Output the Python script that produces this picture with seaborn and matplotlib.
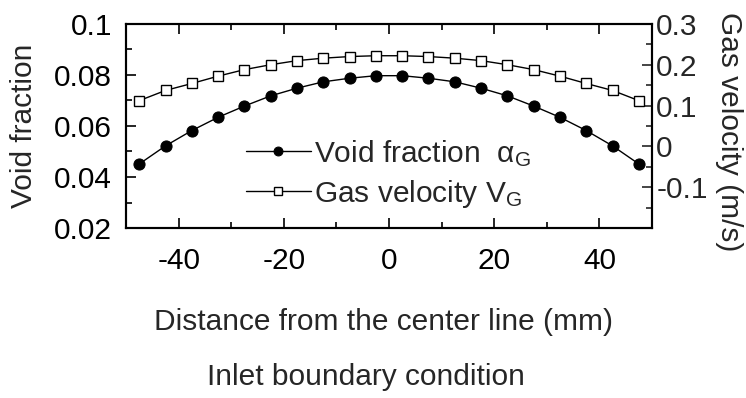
import matplotlib
matplotlib.use("Agg")
import matplotlib.pyplot as plt
import seaborn as sns
import numpy as np
from matplotlib.ticker import MultipleLocator

# Data
distance_mm = [-47.5, -42.5, -37.5, -32.5, -27.5, -22.5, -17.5, -12.5, -7.5, -2.5,
               2.5, 7.5, 12.5, 17.5, 22.5, 27.5, 32.5, 37.5, 42.5, 47.5]
void_fraction = [0.0451, 0.0522, 0.0582, 0.0634, 0.0678, 0.0718, 0.0748, 0.0773, 0.0787, 0.0797,
                 0.0797, 0.0787, 0.0773, 0.0748, 0.0718, 0.0678, 0.0634, 0.0582, 0.0522, 0.0451]
gas_velocity = [0.112, 0.137, 0.154, 0.172, 0.188, 0.200, 0.210, 0.216, 0.220, 0.222,
                0.222, 0.220, 0.216, 0.210, 0.200, 0.188, 0.172, 0.154, 0.137, 0.112]
x_ticks = [-40, -20, 0, 20, 40]
left_ticks = [0.02, 0.04, 0.06, 0.08, 0.1]
left_tick_labels = ["0.02", "0.04", "0.06", "0.08", "0.1"]
right_ticks = [-0.1, 0, 0.1, 0.2, 0.3]
right_tick_labels = ["-0.1", "0", "0.1", "0.2", "0.3"]

sns.set_style("ticks")
plt.rcParams['font.family'] = ['Liberation Sans', 'DejaVu Sans']
plt.rcParams['mathtext.fontset'] = 'custom'
plt.rcParams['mathtext.rm'] = 'Liberation Sans'
plt.rcParams['mathtext.it'] = 'Liberation Sans:italic'

FS = 21.5
fig = plt.figure(figsize=(7.46, 3.98), dpi=100)
ax = fig.add_axes([0.169, 0.427, 0.705, 0.513])
ax2 = ax.twinx()

sns.lineplot(x=distance_mm, y=void_fraction, ax=ax, color="black", marker="o",
             markersize=8, markerfacecolor="black", markeredgecolor="black",
             linewidth=1.0, label="Void fraction  α$_{\\mathrm{G}}$", legend=False)
sns.lineplot(x=distance_mm, y=gas_velocity, ax=ax2, color="black", marker="s",
             markersize=7.5, markerfacecolor="white", markeredgecolor="black",
             markeredgewidth=1.0, linewidth=1.0, label="Gas velocity V$_{\\mathrm{G}}$",
             legend=False)

ax.set_xlim(-50, 50)
ax.set_ylim(0.02, 0.1)
ax2.set_ylim(-0.2, 0.3)

ax.set_xticks(x_ticks)
ax.set_xticklabels([str(t) for t in x_ticks])
ax.xaxis.set_minor_locator(MultipleLocator(10))
ax.set_yticks(left_ticks)
ax.set_yticklabels(left_tick_labels)
ax.yaxis.set_minor_locator(MultipleLocator(0.01))
ax2.set_yticks(right_ticks)
ax2.set_yticklabels(right_tick_labels)
ax2.yaxis.set_minor_locator(MultipleLocator(0.05))

ax.tick_params(axis="both", which="both", direction="in", labelsize=FS, top=True,
               width=1.2, colors="black")
ax.tick_params(axis="both", which="major", length=7)
ax.tick_params(axis="both", which="minor", length=4)
ax.tick_params(axis="x", which="major", pad=14)
ax.tick_params(axis="y", which="major", pad=10)
ax.tick_params(axis="y", which="both", right=False)
ax2.tick_params(axis="y", which="both", direction="in", labelsize=FS, width=1.2, pad=3)
ax2.tick_params(axis="y", which="major", length=7)
ax2.tick_params(axis="y", which="minor", length=4)

for a in (ax, ax2):
    for s in a.spines.values():
        s.set_linewidth(1.5)
        s.set_color("black")
        s.set_visible(True)

ax.set_xlabel("Distance from the center line (mm)", fontsize=FS)
ax.set_ylabel("Void fraction", fontsize=FS)
ax2.set_ylabel("Gas velocity (m/s)", fontsize=FS, rotation=270, va="center")
ax.xaxis.set_label_coords(0.49, -0.39)
ax.yaxis.set_label_coords(-0.167, 0.5)
ax2.yaxis.set_label_coords(1.146, 0.47)

h1, l1 = ax.get_legend_handles_labels()
h2, l2 = ax2.get_legend_handles_labels()
leg = ax2.legend(h1 + h2, l1 + l2, loc="upper left", bbox_to_anchor=(0.206, 0.5),
                 frameon=False, fontsize=FS, handlelength=2.15, handletextpad=0.1,
                 labelspacing=0.3, markerscale=0.8, borderaxespad=0)

fig.text(0.49, 0.053, "Inlet boundary condition", fontsize=FS, ha="center", va="center")

fig.savefig("out.png", dpi=100)
